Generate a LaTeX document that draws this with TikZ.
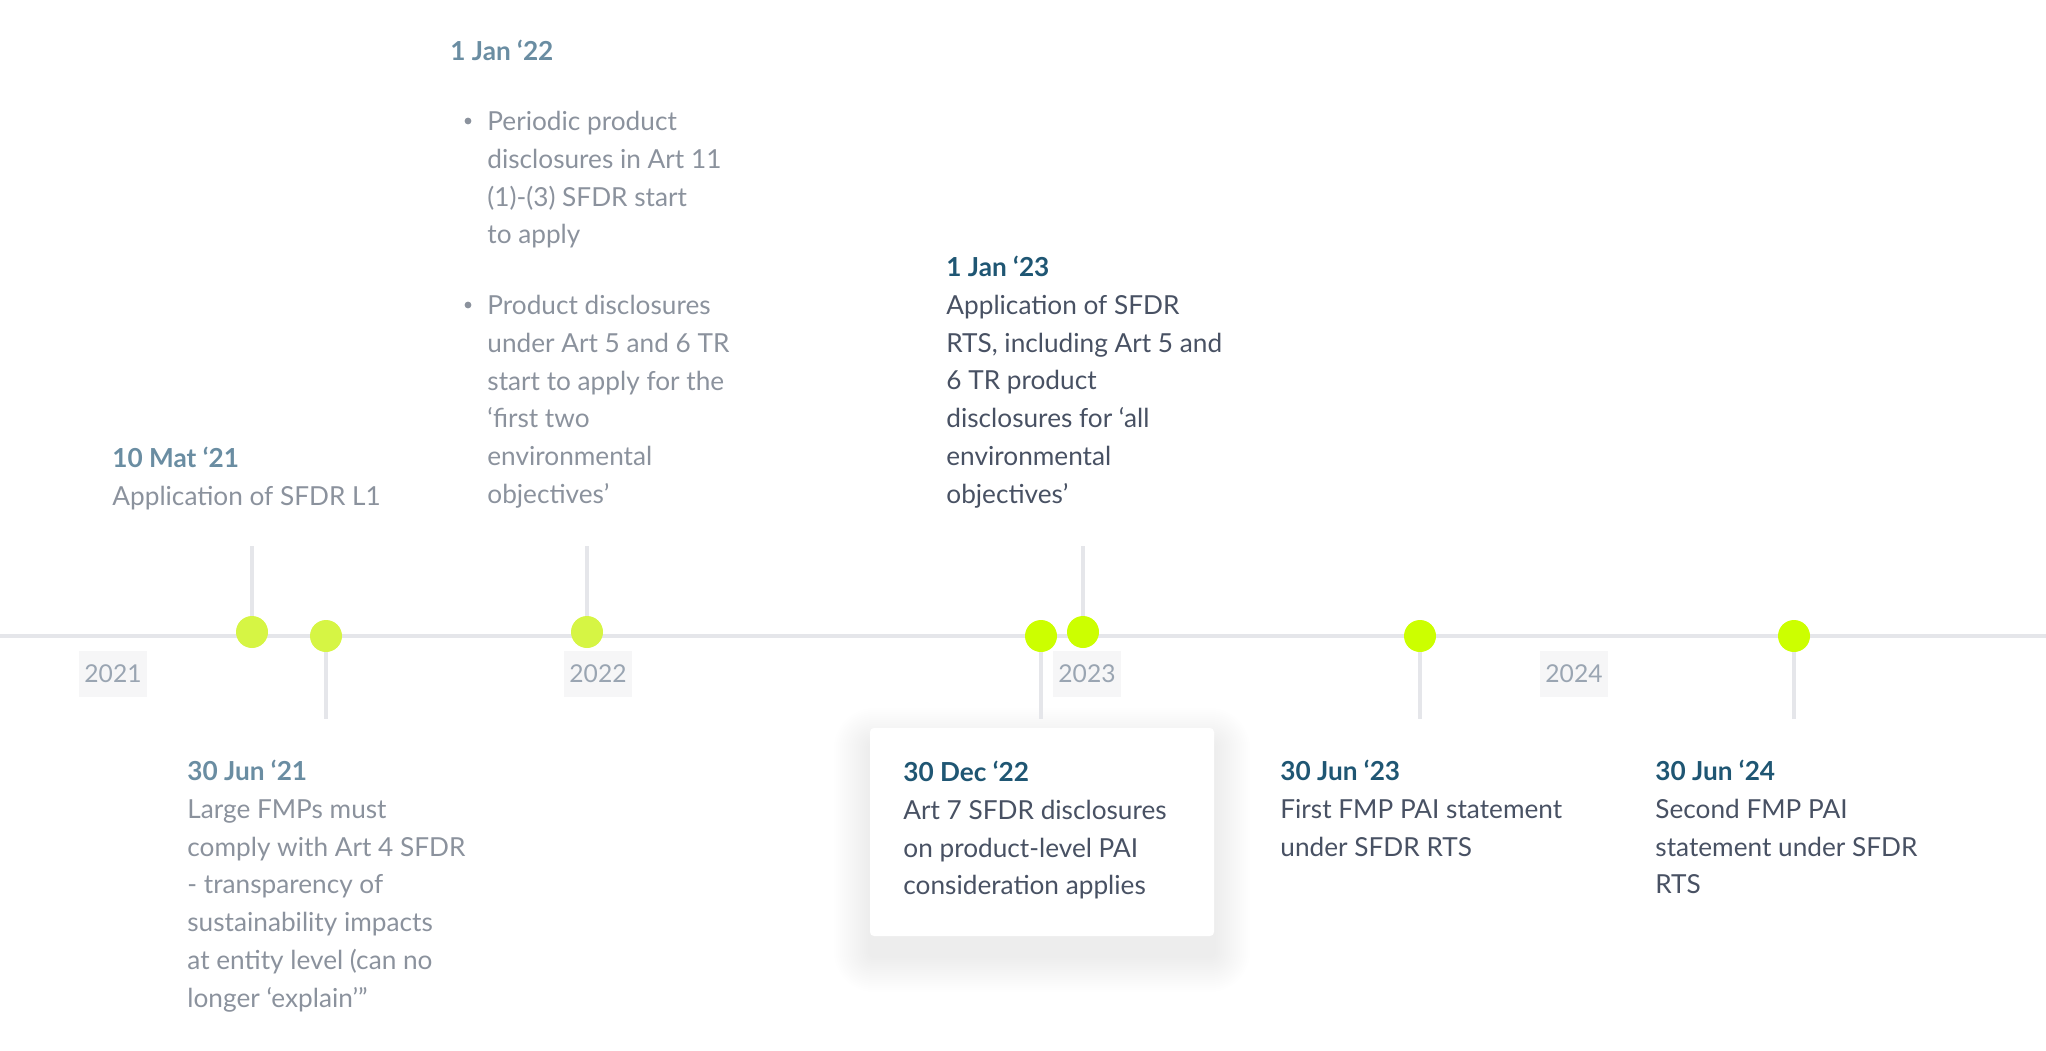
\documentclass[tikz,border=0pt]{standalone}
\usepackage{fontspec}
\setmainfont{Lato}
\usepackage{tikz}

\definecolor{fadetitle}{HTML}{6A8DA2}
\definecolor{fadebody}{HTML}{8B929D}
\definecolor{darktitle}{HTML}{1F5673}
\definecolor{darkbody}{HTML}{485163}
\definecolor{axisgray}{HTML}{E5E6EA}
\definecolor{yearbg}{HTML}{F6F6F7}
\definecolor{yeartext}{HTML}{9AA5B2}
\definecolor{limefade}{HTML}{D6F544}
\definecolor{lime}{HTML}{CCFF00}

% strut that fixes the top of every text block
\newcommand{\firstline}{\rule{0pt}{12pt}}

\begin{document}
\begin{tikzpicture}[x=0.5pt,y=-0.5pt,
    evtext/.style={anchor=north west,inner sep=0pt,align=left,font=\fontsize{13.1}{18.9}\selectfont},
    fadetxt/.style={evtext,text=fadebody},
    darktxt/.style={evtext,text=darkbody},
    evdot/.style={circle,inner sep=0pt,minimum size=16pt,fill=#1},
    stemline/.style={axisgray,line width=1.8pt},
    yearbox/.style={fill=yearbg,text=yeartext,inner xsep=2.6pt,inner ysep=0pt,minimum height=23pt,font=\fontsize{12.3}{14}\selectfont}]
    \useasboundingbox (0,0) rectangle (2046,1050);
    % Tidslinje
    \coordinate (tlA) at (0,636);
    \coordinate (tlB) at (2046,636);
    \draw[axisgray,line width=2.2pt] (tlA) -- (tlB);
    % Aarstal under linjen
    \node[yearbox] (y2021) at (113,674) {2021};
    \node[yearbox] (y2022) at (598,674) {2022};
    \node[yearbox] (y2023) at (1087,674) {2023};
    \node[yearbox] (y2024) at (1574,674) {2024};
    % Skygge og kort for den aktive begivenhed
    \foreach \i in {1,...,18}
      \fill[black,opacity=0.005,rounded corners=2pt+\i pt] ({870-2*\i},{744-2*\i}) rectangle ({1214+2*\i},{956+2*\i});
    \fill[white,rounded corners=2pt] (870,728) rectangle (1214,936);
    % Punkter paa linjen
    \node[evdot=limefade] (d1) at (252,632) {};
    \node[evdot=limefade] (d2) at (326,636) {};
    \node[evdot=limefade] (d3) at (587,632) {};
    \node[evdot=lime] (d4) at (1041,636) {};
    \node[evdot=lime] (d5) at (1083,632) {};
    \node[evdot=lime] (d6) at (1420,636) {};
    \node[evdot=lime] (d7) at (1794,636) {};
    % Stilke op og ned
    \coordinate (d1end) at (252,546);
    \coordinate (d2end) at (326,719);
    \coordinate (d3end) at (587,546);
    \coordinate (d4end) at (1041,719);
    \coordinate (d5end) at (1083,546);
    \coordinate (d6end) at (1420,719);
    \coordinate (d7end) at (1794,719);
    \draw[stemline] (d1) -- (d1end);
    \draw[stemline] (d2) -- (d2end);
    \draw[stemline] (d3) -- (d3end);
    \draw[stemline] (d4) -- (d4end);
    \draw[stemline] (d5) -- (d5end);
    \draw[stemline] (d6) -- (d6end);
    \draw[stemline] (d7) -- (d7end);
    % Tekster over linjen
    \node[fadetxt] (e1) at (112,443) {\firstline\textcolor{fadetitle}{\bfseries 10 Mat ‘21}\\Application of SFDR L1};
    \node[fadetxt] (e3) at (450,36) {\firstline\textcolor{fadetitle}{\bfseries 1 Jan ‘22}};
    \fill[fadebody] (468,121) circle (1.7pt);
    \node[fadetxt] (e3a) at (487,106) {\firstline Periodic product\\disclosures in Art 11\\(1)-(3) SFDR start\\to apply};
    \fill[fadebody] (468,305) circle (1.7pt);
    \node[fadetxt] (e3b) at (487,290) {\firstline Product disclosures\\under Art 5 and 6 TR\\start to apply for the\\‘first two\\environmental\\objectives’};
    \node[darktxt] (e5) at (946,252) {\firstline\textcolor{darktitle}{\bfseries 1 Jan ‘23}\\Application of SFDR\\RTS, including Art 5 and\\6 TR product\\disclosures for ‘all\\environmental\\objectives’};
    % Tekster under linjen
    \node[fadetxt] (e2) at (187,756) {\firstline\textcolor{fadetitle}{\bfseries 30 Jun ‘21}\\Large FMPs must\\comply with Art 4 SFDR\\- transparency of\\sustainability impacts\\at entity level (can no\\longer ‘explain’”};
    \node[darktxt] (e4) at (903,757) {\firstline\textcolor{darktitle}{\bfseries 30 Dec ‘22}\\Art 7 SFDR disclosures\\on product-level PAI\\consideration applies};
    \node[darktxt] (e6) at (1280,756) {\firstline\textcolor{darktitle}{\bfseries 30 Jun ‘23}\\First FMP PAI statement\\under SFDR RTS};
    \node[darktxt] (e7) at (1655,756) {\firstline\textcolor{darktitle}{\bfseries 30 Jun ‘24}\\Second FMP PAI\\statement under SFDR\\RTS};
  \end{tikzpicture}
\end{document}
